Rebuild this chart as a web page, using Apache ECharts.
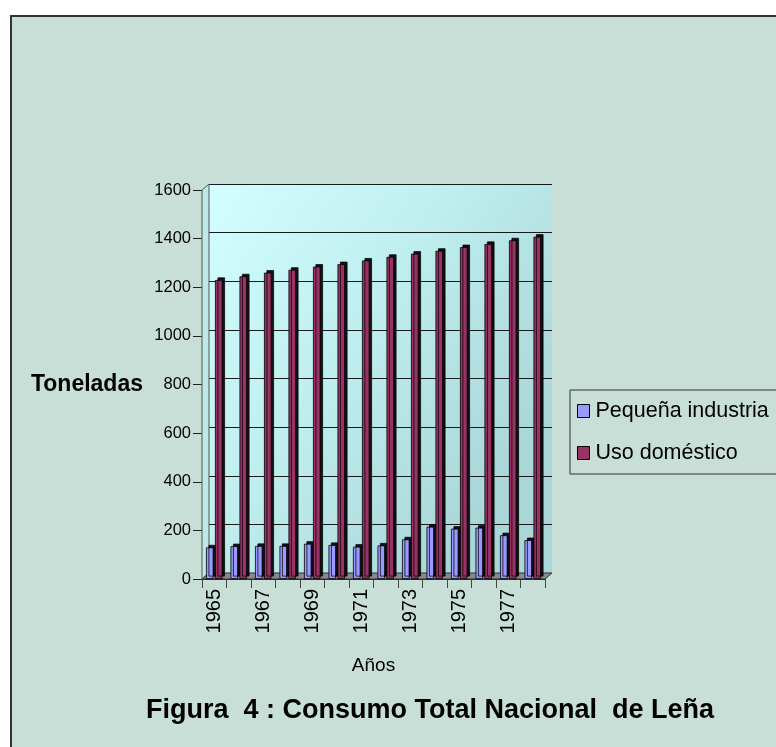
<!DOCTYPE html>
<html>
<head>
<meta charset="utf-8">
<script src="https://cdn.jsdelivr.net/npm/echarts@6/dist/echarts.min.js"></script>
<style>
html,body{margin:0;padding:0;background:#fff;}
#chart{width:776px;height:747px;}
</style>
</head>
<body>
<div id="chart"></div>
<script>
const years = ['1965','1966','1967','1968','1969','1970','1971','1972','1973','1974','1975','1976','1977','1978'];
const pequenaIndustria = [130,135,136,136,145,140,133,138,163,215,207,211,180,160];
const usoDomestico = [1230,1245,1260,1272,1285,1295,1310,1325,1338,1350,1365,1378,1393,1408];
const yMin = 0, yMax = 1600, yStep = 200;
const seriesNames = ['Pequeña industria','Uso doméstico'];
const titleText = 'Figura  4 : Consumo Total Nacional  de Leña';
const yName = 'Toneladas';
const xName = 'Años';

const FONT = '"Liberation Sans", Arial, sans-serif';
const chart = echarts.init(document.getElementById('chart'), null, {renderer:'canvas'});

const option = {
  backgroundColor: '#ffffff',
  animation: false,
  title: {
    text: titleText,
    left: 146, top: 697, padding: 0,
    textStyle: {fontFamily: FONT, fontSize: 27, fontWeight: 'bold', color: '#000'}
  },
  legend: {
    data: seriesNames,
    orient: 'vertical',
    left: 570, top: 390,
    padding: [10, 30, 10, 7],
    itemGap: 20,
    itemWidth: 12, itemHeight: 13,
    icon: 'rect',
    borderColor: '#333', borderWidth: 1,
    itemStyle: {borderColor: '#000', borderWidth: 1, shadowColor: 'transparent', shadowOffsetX: 0, shadowOffsetY: 0},
    textStyle: {fontFamily: FONT, fontSize: 21.5, color: '#000', padding: [0,0,0,1]}
  },
  graphic: [
    {type: 'rect', z: -100, silent: true,
     shape: {x: 11, y: 16, width: 900, height: 900},
     style: {fill: '#c8dfd7', stroke: '#333', lineWidth: 2}},
    {type: 'polygon', z: 1, silent: true,
     shape: {points: [[202,190],[209,184],[209,573],[202,579]]},
     style: {fill: '#bde9e9', stroke: '#555', lineWidth: 1}},
    {type: 'polygon', z: 1, silent: true,
     shape: {points: [[202,579],[209,573],[552,573],[545,579]]},
     style: {fill: '#8a8a8a', stroke: '#333', lineWidth: 1}}
  ],
  grid: [
    {left: 209, right: 224, top: 184, bottom: 174, show: true, borderWidth: 0,
     backgroundColor: {type: 'linear', x: 0, y: 0, x2: 1, y2: 0.6,
       colorStops: [{offset: 0, color: '#d2ffff'}, {offset: 0.5, color: '#bfeeee'}, {offset: 1, color: '#a9d6d6'}]}},
    {left: 202, right: 231, top: 190, bottom: 168, show: false}
  ],
  xAxis: [
    {type: 'category', gridIndex: 0, data: years, show: false},
    {type: 'category', gridIndex: 1, data: years,
     axisLine: {show: true, lineStyle: {color: '#222', width: 1}},
     axisTick: {show: true, interval: 0, length: 9, lineStyle: {color: '#444'}},
     axisLabel: {interval: 1, rotate: 90, margin: 10, fontFamily: FONT, fontSize: 20, color: '#000'},
     name: xName, nameLocation: 'middle', nameGap: 77,
     nameTextStyle: {fontFamily: FONT, fontSize: 19, color: '#000'}}
  ],
  yAxis: [
    {type: 'value', gridIndex: 0, min: yMin, max: yMax, interval: yStep,
     axisLine: {show: false}, axisTick: {show: false}, axisLabel: {show: false},
     splitLine: {show: true, lineStyle: {color: '#1a1a1a', width: 1}}},
    {type: 'value', gridIndex: 1, min: yMin, max: yMax, interval: yStep,
     axisLine: {show: true, lineStyle: {color: '#222', width: 1}},
     axisTick: {show: true, length: 9, lineStyle: {color: '#222'}},
     axisLabel: {margin: 11, fontFamily: FONT, fontSize: 16.5, color: '#000', formatter: function (v) { return String(v); }},
     splitLine: {show: false},
     name: yName, nameLocation: 'middle', nameRotate: 0, nameGap: 59,
     nameTextStyle: {fontFamily: FONT, fontSize: 23, fontWeight: 'bold', color: '#000'}}
  ],
  series: [
    {name: seriesNames[0], type: 'bar', xAxisIndex: 1, yAxisIndex: 1, data: pequenaIndustria,
     barWidth: 7.5, barGap: '20%', z: 3,
     itemStyle: {color: '#9999ff', borderColor: '#000', borderWidth: 0.8,
       shadowColor: 'rgba(0,0,0,0.92)', shadowBlur: 0, shadowOffsetX: 2.5, shadowOffsetY: -2.5}},
    {name: seriesNames[1], type: 'bar', xAxisIndex: 1, yAxisIndex: 1, data: usoDomestico,
     barWidth: 7.5, barGap: '20%', z: 3,
     itemStyle: {color: '#993366', borderColor: '#000', borderWidth: 0.8,
       shadowColor: 'rgba(0,0,0,0.92)', shadowBlur: 0, shadowOffsetX: 2.5, shadowOffsetY: -2.5}}
  ]
};
chart.setOption(option);
</script>
</body>
</html>
